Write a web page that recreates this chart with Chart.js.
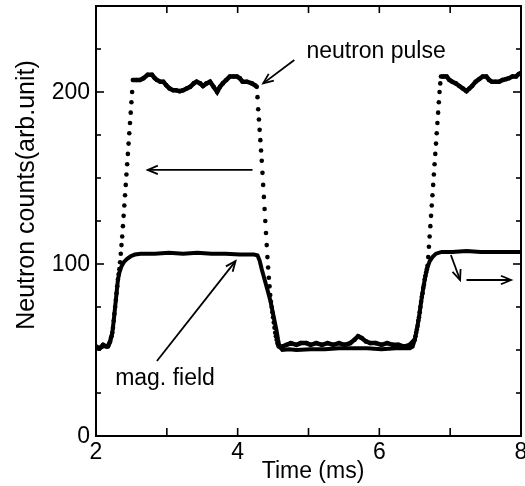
<!DOCTYPE html>
<html><head><meta charset="utf-8">
<script src="https://cdn.jsdelivr.net/npm/chart.js@4.4.1/dist/chart.umd.min.js"></script>
<style>html,body{margin:0;padding:0;background:#fff}#wrap{width:525px;height:486px}</style>
</head><body><div id="wrap"><canvas id="c" width="525" height="486"></canvas></div>
<script>
// neutron pulse (dots)
const neutronTime = [
2.00,2.05,2.10,2.15,
2.17,2.18,2.19,2.20,2.21,2.22,2.23,2.24,2.25,2.26,2.27,2.28,2.29,2.30,2.31,2.32,2.33,2.34,2.35,2.36,2.37,2.38,2.39,2.40,2.41,2.42,2.43,2.44,2.45,2.46,2.47,2.48,2.49,2.50,2.51,2.52,
2.57,2.62,2.67,2.73,2.79,2.83,2.86,2.91,2.95,2.99,3.04,3.09,3.13,3.18,3.23,3.28,3.33,3.38,3.42,3.47,3.51,3.56,3.61,3.66,3.71,3.75,3.79,3.84,3.89,3.94,3.99,4.03,4.07,4.13,4.20,4.24,4.27,
4.28,4.29,4.30,4.31,4.32,4.33,4.34,4.35,4.36,4.37,4.38,4.39,4.40,4.41,4.42,4.43,4.44,4.45,4.46,4.47,4.48,4.49,4.50,4.51,4.52,4.53,4.54,4.55,4.56,4.57,4.58,
4.63,4.69,4.75,4.83,4.89,4.97,5.03,5.11,5.19,5.27,5.35,5.43,5.51,5.59,5.65,5.70,5.75,5.81,5.87,5.95,6.03,6.11,6.19,6.27,6.35,6.43,
6.50,6.51,6.52,6.53,6.54,6.55,6.56,6.57,6.58,6.59,6.60,6.61,6.62,6.63,6.64,6.65,6.66,6.67,6.68,6.69,6.70,6.71,6.72,6.73,6.74,6.75,6.76,6.77,6.78,6.79,6.80,6.81,6.82,6.83,6.84,6.85,6.86,6.87,
6.91,6.95,6.99,7.03,7.08,7.13,7.18,7.23,7.27,7.31,7.36,7.41,7.46,7.51,7.55,7.59,7.64,7.69,7.74,7.79,7.83,7.88,7.93,7.97,8.00];
const neutronCounts = [
52,51,53,52,
52,53,54,55,57,58,60,63,67,71,75,79,83,87,91,94,97,101,106,111,116,122,128,134,140,146,152,158,164,170,176,182,188,194,200,207,
207,207,208,210,210,208,207,206,206,204,202,201,201,200.5,201,202,203,205,206,205,203.5,205,206,203,200,203,205,207,209,209,209,208,206,206,205,204,203,
197,190,184,178,172,166,160,153,146,139,132,125,118,111,104,98,92,87,82,78,75,72,69,66,63,60,58,56,54,53,52,
52,53,54,53,54,54,53,54,53,54,53,54,53,54,56,58,57,55,54,54,53,54,53,53,52,53,
56,58,60,62,64,67,69,72,75,78,81,83,86,88,91,93,95,97,99,104,110,116,122,128,134,140,146,152,158,164,170,176,182,188,194,200,205,209,
209,209,207,206,205,203.5,202,200.5,202,203.5,206,207.5,209,209,207,206,206,206,207,207.5,208,209,209,210.5,211];
// magnetic field (solid)
const fieldTime = [
2.00,2.05,2.10,2.17,2.20,2.23,2.25,2.27,2.29,2.31,
2.33,2.35,2.37,2.40,2.44,2.49,2.55,2.63,2.83,3.03,
3.23,3.43,3.63,3.83,4.03,4.23,4.28,4.31,4.34,4.38,
4.42,4.46,4.49,4.52,4.55,4.57,4.59,4.63,4.73,4.83,
5.03,5.23,5.43,5.63,5.83,6.03,6.23,6.43,6.47,6.50,
6.53,6.56,6.59,6.62,6.65,6.68,6.71,6.75,6.80,6.88,
7.03,7.23,7.43,7.63,7.83,8.00];
const fieldCounts = [
51.5,51,52,52.5,55,60,67,75,83,91,
95,97.5,99.5,101.5,103,104.5,105.5,106,106,106.5,
106,106.5,106,106,105.5,105.5,105,102,97,91,
85,79,73,67,61,56,52,50,50.5,50,
50.5,50.5,51,51,51,50.5,51,51,52,56,
62,69,78,86,93,98,101.5,104,106,107,
107,107.5,107,107,107,107];

const xTickValues = [2,4,6,8];
const xTickLabels = ['2','4','6','8'];
const xMinorTicks = [3,5,7];
const yTickValues = [0,100,200];
const yTickLabels = ['0','100','200'];
const yMinorTicks = [25,50,75,125,150,175,225];

const xTitle = 'Time (ms)';
const yTitle = 'Neutron counts(arb.unit)';
const noteLabels = [{text:'neutron pulse', x:4.97, y:220}, {text:'mag. field', x:2.27, y:29.7}];
const noteArrows = [
  {from:[4.80,218.6], to:[4.36,205]},
  {from:[4.21,154.7], to:[2.73,154.7]},
  {from:[2.86,43.6], to:[3.97,101.7]},
  {from:[7.01,105.2], to:[7.14,90.7]},
  {from:[7.23,90.7], to:[7.86,90.7]}
];

const FONT = '"Liberation Sans", Arial, Helvetica, sans-serif';
const toXY = (ts, vs) => ts.map((t,i)=>({x:t, y:vs[i]}));

const decor = {
  id:'decor',
  afterDraw(chart){
    const ctx = chart.ctx, a = chart.chartArea, xs = chart.scales.x, ys = chart.scales.y;
    ctx.save();
    ctx.strokeStyle = '#000'; ctx.fillStyle = '#000';
    ctx.lineWidth = 2;
    ctx.strokeRect(a.left, a.top, a.right-a.left, a.bottom-a.top);
    ctx.lineWidth = 1.6;
    const tick = (x1,y1,x2,y2)=>{ctx.beginPath();ctx.moveTo(x1,y1);ctx.lineTo(x2,y2);ctx.stroke();};
    [...xTickValues, ...xMinorTicks].forEach(v=>{
      const px = xs.getPixelForValue(v);
      tick(px, a.bottom, px, a.bottom-8);
      tick(px, a.top, px, a.top+7);
    });
    yTickValues.forEach(v=>{ const py = ys.getPixelForValue(v); tick(a.left,py,a.left+8,py); tick(a.right,py,a.right-8,py); });
    yMinorTicks.forEach(v=>{ const py = ys.getPixelForValue(v); tick(a.left,py,a.left+5,py); tick(a.right,py,a.right-5,py); });
    ctx.font = '23px ' + FONT;
    ctx.textAlign = 'center'; ctx.textBaseline = 'top';
    xTickValues.forEach((v,i)=>{ ctx.fillText(xTickLabels[i], xs.getPixelForValue(v), a.bottom+5); });
    ctx.textAlign = 'right'; ctx.textBaseline = 'middle';
    yTickValues.forEach((v,i)=>{ ctx.fillText(yTickLabels[i], a.left-6, ys.getPixelForValue(v)+1); });
    ctx.font = '23px ' + FONT;
    ctx.textAlign = 'center'; ctx.textBaseline = 'alphabetic';
    ctx.fillText(xTitle, 313, 478);
    ctx.save();
    ctx.translate(34, 195); ctx.rotate(-Math.PI/2);
    ctx.font = '25px ' + FONT;
    ctx.fillText(yTitle, 0, 0);
    ctx.restore();
    ctx.font = '23px ' + FONT;
    ctx.textAlign = 'left'; ctx.textBaseline = 'alphabetic';
    noteLabels.forEach(n=>ctx.fillText(n.text, xs.getPixelForValue(n.x), ys.getPixelForValue(n.y)));
    ctx.lineWidth = 1.8;
    noteArrows.forEach(ar=>{
      const x1 = xs.getPixelForValue(ar.from[0]), y1 = ys.getPixelForValue(ar.from[1]);
      const x2 = xs.getPixelForValue(ar.to[0]), y2 = ys.getPixelForValue(ar.to[1]);
      tick(x1,y1,x2,y2);
      const ang = Math.atan2(y2-y1, x2-x1), L = 11, w = 0.4;
      ctx.beginPath();
      ctx.moveTo(x2 - L*Math.cos(ang-w), y2 - L*Math.sin(ang-w));
      ctx.lineTo(x2, y2);
      ctx.lineTo(x2 - L*Math.cos(ang+w), y2 - L*Math.sin(ang+w));
      ctx.stroke();
    });
    ctx.restore();
  }
};

new Chart(document.getElementById('c'), {
  type:'scatter',
  data:{ datasets:[
    { label:'mag. field', data: toXY(fieldTime, fieldCounts), showLine:true, borderColor:'#000', backgroundColor:'#000', borderWidth:4, pointRadius:0, tension:0 },
    { label:'neutron pulse', data: toXY(neutronTime, neutronCounts), showLine:true, borderColor:'#000', backgroundColor:'#000', borderWidth:4.5, pointRadius:2.3, pointBorderWidth:0,
      segment:{ borderColor: c => (c.p1.parsed.x - c.p0.parsed.x) < 0.015 ? 'rgba(0,0,0,0)' : '#000' } }
  ]},
  options:{
    responsive:false, animation:false, devicePixelRatio:1,
    layout:{ padding:{ left:96, top:6, right:3, bottom:50 } },
    plugins:{ legend:{display:false}, tooltip:{enabled:false} },
    scales:{
      x:{ type:'linear', display:false, min:2, max:8 },
      y:{ type:'linear', display:false, min:0, max:250 }
    }
  },
  plugins:[decor]
});
</script></body></html>
